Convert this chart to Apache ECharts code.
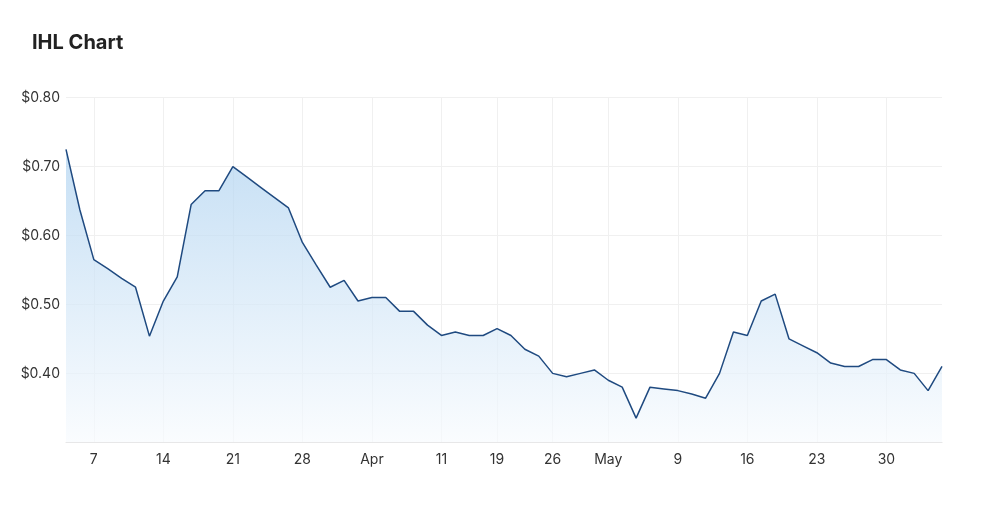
<!DOCTYPE html>
<html>
<head>
<meta charset="utf-8">
<script src="https://cdn.jsdelivr.net/npm/echarts@6/dist/echarts.min.js"></script>
<style>
html,body{margin:0;padding:0;background:#fff;}
#chart{width:1000px;height:506px;}
</style>
</head>
<body>
<div id="chart"></div>
<script>
// Trading days (ASX, 2022), Mar 3 – Jun 3
const dates = [
  "2022-03-03","2022-03-04","2022-03-07","2022-03-08","2022-03-09","2022-03-10","2022-03-11",
  "2022-03-14","2022-03-15","2022-03-16","2022-03-17","2022-03-18",
  "2022-03-21","2022-03-22","2022-03-23","2022-03-24","2022-03-25",
  "2022-03-28","2022-03-29","2022-03-30","2022-03-31","2022-04-01",
  "2022-04-04","2022-04-05","2022-04-06","2022-04-07","2022-04-08",
  "2022-04-11","2022-04-12","2022-04-13","2022-04-14",
  "2022-04-19","2022-04-20","2022-04-21","2022-04-22",
  "2022-04-26","2022-04-27","2022-04-28","2022-04-29",
  "2022-05-02","2022-05-03","2022-05-04","2022-05-05","2022-05-06",
  "2022-05-09","2022-05-10","2022-05-11","2022-05-12","2022-05-13",
  "2022-05-16","2022-05-17","2022-05-18","2022-05-19","2022-05-20",
  "2022-05-23","2022-05-24","2022-05-25","2022-05-26","2022-05-27",
  "2022-05-30","2022-05-31","2022-06-01","2022-06-02","2022-06-03"
];
const prices = [
  0.725,0.637,0.565,0.552,0.538,0.525,0.454,
  0.505,0.540,0.645,0.665,0.665,
  0.700,0.685,0.670,0.655,0.640,
  0.590,0.557,0.525,0.535,0.505,
  0.510,0.510,0.490,0.490,0.470,
  0.455,0.460,0.455,0.455,
  0.465,0.455,0.435,0.425,
  0.400,0.395,0.400,0.405,
  0.390,0.380,0.335,0.380,0.3775,
  0.375,0.370,0.364,0.400,0.460,
  0.455,0.505,0.515,0.450,0.440,
  0.430,0.415,0.410,0.410,0.420,
  0.420,0.405,0.400,0.375,0.410
];
// Dates that carry an x-axis label
const labelDates = ["2022-03-07","2022-03-14","2022-03-21","2022-03-28","2022-04-04","2022-04-11",
  "2022-04-19","2022-04-26","2022-05-02","2022-05-09","2022-05-16","2022-05-23","2022-05-30"];
const labelTexts = ["7","14","21","28","Apr","11","19","26","May","9","16","23","30"];
const yTicks = [0.40,0.50,0.60,0.70,0.80];

const labelMap = {};
labelDates.forEach((d,i)=>{labelMap[d]=labelTexts[i];});
const showLabel = (idx, val) => labelMap.hasOwnProperty(val);

const chart = echarts.init(document.getElementById('chart'), null, {renderer:'canvas'});
chart.setOption({
  animation:false,
  backgroundColor:'#fff',
  title:{
    text:'IHL Chart',
    left:27, top:28,
    textStyle:{fontFamily:'Inter, "Noto Sans", sans-serif', fontSize:20, fontWeight:'bold', color:'#222'}
  },
  grid:{left:66, right:58, top:97.7, bottom:63.7, containLabel:false},
  xAxis:{
    type:'category',
    data:dates,
    boundaryGap:false,
    axisLine:{show:true, lineStyle:{color:'#e3e3e3', width:1}},
    axisTick:{show:false},
    axisLabel:{
      interval:showLabel,
      formatter:(v)=>labelMap[v]||'',
      color:'#333', fontSize:14, margin:10,
      fontFamily:'Inter, "Noto Sans", sans-serif'
    },
    splitLine:{show:true, interval:showLabel, lineStyle:{color:'#f0f0f0', width:1}}
  },
  yAxis:{
    type:'value',
    min:0.3, max:0.8, interval:0.1,
    axisLine:{show:false},
    axisTick:{show:false},
    axisLabel:{
      formatter:(v)=>{
        const r = Math.round(v*100)/100;
        return yTicks.some(t=>Math.abs(t-r)<1e-6) ? '$'+r.toFixed(2) : '';
      },
      color:'#333', fontSize:14, margin:6,
      fontFamily:'Inter, "Noto Sans", sans-serif'
    },
    splitLine:{show:true, lineStyle:{color:'#f0f0f0', width:1}}
  },
  series:[{
    type:'line',
    data:prices,
    symbol:'none',
    smooth:false,
    lineStyle:{color:'#1f4a80', width:1.5},
    areaStyle:{
      color:new echarts.graphic.LinearGradient(0,0,0,1,[
        {offset:0, color:'#aed2f0'},
        {offset:1, color:'#f8fbfe'}
      ])
    }
  }]
});
</script>
</body>
</html>
